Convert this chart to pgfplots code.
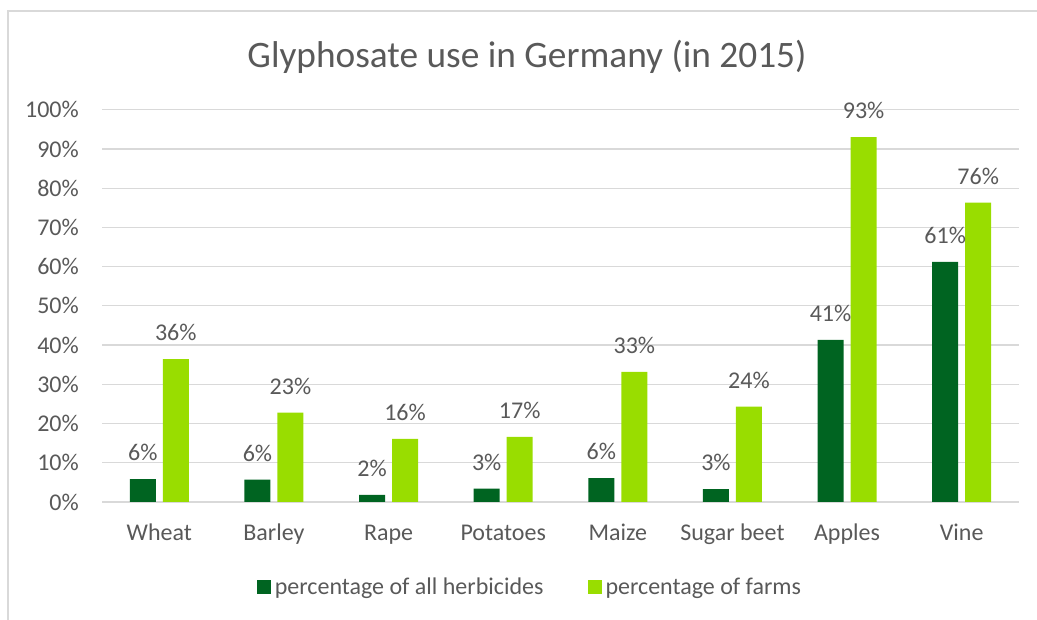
\documentclass[border=0pt]{standalone}
\usepackage{fontspec}
\setmainfont{Carlito}
\usepackage{pgfplots}
\pgfplotsset{compat=1.18}
\definecolor{dgreen}{RGB}{0,100,33}
\definecolor{lgreen}{RGB}{153,221,0}
\definecolor{txt}{RGB}{89,89,89}
\definecolor{gridc}{RGB}{217,217,217}
\pgfplotsset{sqlegend/.style={legend image code/.code={\fill[##1] (0pt,-5.25pt) rectangle (10.5pt,5.25pt);\path (11.5pt,0pt);}}}
\begin{document}
\begin{tikzpicture}[x=0.75pt,y=0.75pt]
\path[use as bounding box] (0,0) rectangle (1037,620);
\draw[gridc, line width=1.1pt] (8,0) -- (8,609) -- (1037,609);
\node[anchor=base, text=txt, font=\fontsize{28}{34}\selectfont] at (527,552.5) {Glyphosate use in Germany (in 2015)};
\begin{axis}[
  at={(76.5pt,88.5pt)}, anchor=south west,
  scale only axis, width=687.75pt, height=294.2pt,
  ymin=0, ymax=100, xmin=-0.5, xmax=7.5,
  ybar, bar width=0.227,
  axis line style={draw=none},
  ymajorgrids, grid style={gridc, line width=0.9pt},
  major tick length=0pt,
  xtick={0,...,7},
  xticklabels={Wheat,Barley,Rape,Potatoes,Maize,Sugar beet,Apples,Vine},
  ytick={0,10,...,100},
  yticklabels={0\%,10\%,20\%,30\%,40\%,50\%,60\%,70\%,80\%,90\%,100\%},
  yticklabel style={anchor=east, inner sep=0pt, xshift=-17.25pt, text=txt, font=\fontsize{18}{21}\selectfont},
  xticklabel style={anchor=base, inner sep=0pt, yshift=-28.5pt, text=txt, font=\fontsize{18}{21}\selectfont},
  nodes near coords={\pgfmathprintnumber[fixed,precision=0,assume math mode=true]{\pgfplotspointmeta}\%},
  nodes near coords style={anchor=south, inner sep=0pt, yshift=13.5pt, text=txt, font=\fontsize{18}{21}\selectfont},
  legend columns=2,
  legend style={at={(0.467,-0.217)}, anchor=center, draw=none, fill=none, text=txt,
    font=\fontsize{18}{21}\selectfont,
    /tikz/every even column/.append style={column sep=31pt}},
]
\addplot[ybar, bar shift=-0.144, fill=dgreen, draw=none, sqlegend] coordinates {
  (0,5.8) (1,5.7) (2,1.8) (3,3.4) (4,6.1) (5,3.3) (6,41.3) (7,61.2)};
\addlegendentry{percentage of all herbicides}
\addplot[ybar, bar shift=0.144, fill=lgreen, draw=none, sqlegend] coordinates {
  (0,36.4) (1,22.8) (2,16.1) (3,16.6) (4,33.2) (5,24.3) (6,93.0) (7,76.3)};
\addlegendentry{percentage of farms}
\end{axis}
\end{tikzpicture}
\end{document}
